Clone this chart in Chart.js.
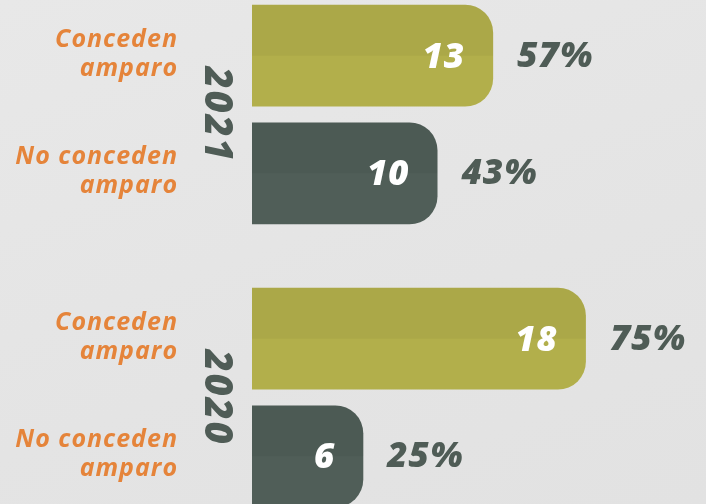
<!DOCTYPE html>
<html>
<head>
	<meta charset="UTF-8">
	<title>Amparos 2021 / 2020</title>
	<style>
		html, body { margin: 0; padding: 0; width: 706px; height: 504px; overflow: hidden; }
		body { background: linear-gradient(160deg, #e8e8e8 0%, #e4e4e4 60%, #e2e2e2 100%); position: relative; }
		#wrap { position: absolute; left: 0; top: -27px; width: 706px; height: 566px; }
	</style>
	<script src="https://cdn.jsdelivr.net/npm/chart.js@4.4.0/dist/chart.umd.min.js"></script>
</head>
<body>
	<div id="wrap"><canvas id="canvas"></canvas></div>
	<script>
		// datos
		var years = ['2021', '2020'];
		var seriesNames = ['Conceden amparo', 'No conceden amparo'];
		var seriesLines = [['Conceden', 'amparo'], ['No conceden', 'amparo']];
		var concedenValues = [13, 18];
		var noConcedenValues = [10, 6];
		var concedenPct = ['57%', '75%'];
		var noConcedenPct = ['43%', '25%'];

		var colors = { olive: '#b2af4b', slate: '#505e58', orange: '#e5843a', text: '#4f5c56' };
		var FONT = '"Open Sans", "Noto Sans", sans-serif';
		var pctLists = [concedenPct, noConcedenPct];

		var labelsPlugin = {
			id: 'labels',
			afterDatasetsDraw: function(chart){
				var ctx = chart.ctx;
				var area = chart.chartArea;
				ctx.save();
				chart.data.datasets.forEach(function(ds, di){
					var meta = chart.getDatasetMeta(di);
					meta.data.forEach(function(el, i){
						var p = el.getProps(['x', 'y', 'base', 'height'], true);
						var top = p.y - p.height / 2;
						var r = Math.min(28, p.x - p.base);
						// parte superior un poco mas oscura
						ctx.fillStyle = 'rgba(0,0,0,0.04)';
						ctx.beginPath();
						ctx.moveTo(p.base, top);
						ctx.lineTo(p.x - r, top);
						ctx.arcTo(p.x, top, p.x, top + r, r);
						ctx.lineTo(p.x, p.y);
						ctx.lineTo(p.base, p.y);
						ctx.closePath();
						ctx.fill();

						ctx.font = 'italic 800 35px ' + FONT;
						ctx.letterSpacing = '1px';
						ctx.textBaseline = 'middle';
						ctx.fillStyle = '#ffffff';
						ctx.textAlign = 'right';
						ctx.fillText(String(ds.data[i]), p.x - 28, p.y + 2);

						ctx.fillStyle = colors.text;
						ctx.textAlign = 'left';
						ctx.fillText(pctLists[di][i], p.x + 24, p.y + 1);

						ctx.font = 'italic 700 25px ' + FONT;
						ctx.letterSpacing = '1px';
						ctx.fillStyle = colors.orange;
						ctx.textAlign = 'right';
						var lines = seriesLines[di];
						ctx.fillText(lines[0], area.left - 74, p.y - 16);
						ctx.fillText(lines[1], area.left - 74, p.y + 13);
					});
				});
				var yScale = chart.scales.y;
				years.forEach(function(yr, i){
					ctx.save();
					ctx.translate(area.left - 36, yScale.getPixelForValue(i));
					ctx.rotate(Math.PI / 2);
					ctx.font = 'italic 800 38px ' + FONT;
					ctx.letterSpacing = '2px';
					ctx.fillStyle = colors.text;
					ctx.textAlign = 'center';
					ctx.textBaseline = 'middle';
					ctx.fillText(yr, 0, 0);
					ctx.restore();
				});
				ctx.restore();
			}
		};

		new Chart(document.getElementById('canvas').getContext('2d'), {
			type: 'bar',
			data: {
				labels: years,
				datasets: [{
					label: seriesNames[0],
					data: concedenValues,
					backgroundColor: colors.olive
				}, {
					label: seriesNames[1],
					data: noConcedenValues,
					backgroundColor: colors.slate
				}]
			},
			options: {
				indexAxis: 'y',
				responsive: true,
				maintainAspectRatio: false,
				animation: false,
				layout: { padding: { left: 252, right: 83, top: 0, bottom: 0 } },
				datasets: {
					bar: {
						categoryPercentage: 0.832,
						barPercentage: 0.866,
						borderRadius: 28,
						borderSkipped: 'start'
					}
				},
				scales: {
					x: { display: false, min: 0, max: 20 },
					y: { display: false }
				},
				plugins: {
					legend: { display: false },
					tooltip: { enabled: false }
				}
			},
			plugins: [labelsPlugin]
		});
	</script>
</body>
</html>
